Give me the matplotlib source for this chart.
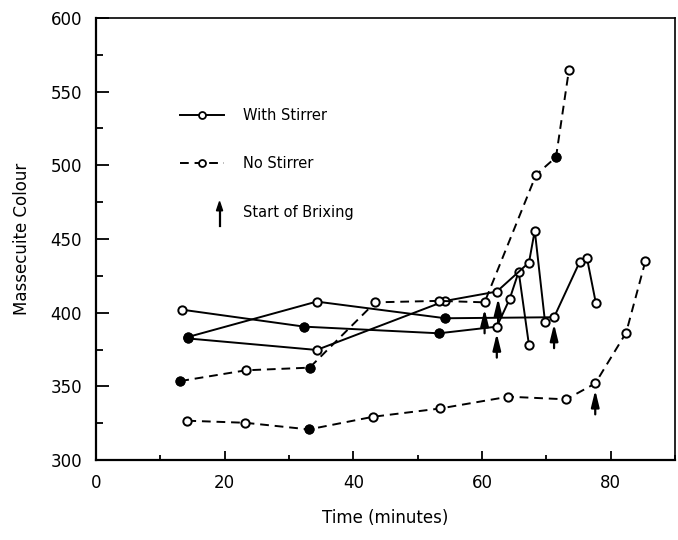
import matplotlib
matplotlib.use('Agg')
import matplotlib.pyplot as plt
from matplotlib.lines import Line2D
from matplotlib.patches import Polygon
from matplotlib.legend_handler import HandlerBase
from matplotlib.ticker import MultipleLocator

# with stirrer runs (time in minutes, massecuite colour)
s1_time = [13.4, 32.4, 53.3, 62.3, 64.3, 65.7, 67.3]
s1_col = [402, 390.5, 386, 390.5, 409.3, 427.8, 378]
s1_filled = [0, 1, 1, 0, 0, 0, 0]

s2_time = [14.3, 34.3, 54.3, 71.2, 75.2, 76.3, 77.7]
s2_col = [383.5, 407.5, 396.2, 396.9, 434.6, 437.3, 406.4]
s2_filled = [1, 0, 1, 0, 0, 0, 0]

s3_time = [14.3, 34.3, 54.3, 62.3, 67.3, 68.2, 69.8]
s3_col = [382.5, 374.7, 408, 414.3, 434, 455.7, 393.5]
s3_filled = [1, 0, 0, 0, 0, 0, 0]

# no stirrer runs
d1_time = [13.1, 23.3, 33.2, 43.4, 53.3, 60.4, 68.4, 71.5, 73.5]
d1_col = [353.6, 360.9, 362.7, 407, 408, 407, 493.5, 505.5, 564.3]
d1_filled = [1, 0, 1, 0, 0, 0, 0, 1, 0]

d2_time = [14.2, 23.2, 33.1, 43.1, 53.5, 64.1, 73.1, 77.6, 82.4, 85.4]
d2_col = [326.7, 325.3, 320.8, 329.4, 335, 343, 341.2, 352, 386.4, 435]
d2_filled = [0, 0, 1, 0, 0, 0, 0, 0, 0, 0]

# start of brixing points
brix_time = [60.4, 62.3, 62.5, 71.2, 77.6]
brix_col = [407, 390.5, 414.3, 396.9, 352]


class ArrowHandler(HandlerBase):
    def create_artists(self, legend, orig_handle, xdescent, ydescent,
                       width, height, fontsize, trans):
        x = width - xdescent - 3
        shaft = Line2D([x, x], [-height * 0.9, height * 0.9], color='black',
                       lw=1.6, transform=trans)
        head = Polygon([[x - 2.2, height * 0.6], [x + 2.2, height * 0.6],
                        [x, height * 1.5]], closed=True, color='black',
                       transform=trans)
        return [shaft, head]


fig, ax = plt.subplots(figsize=(6.78, 5.4), dpi=100)
fig.subplots_adjust(left=0.1416, right=0.9956, bottom=0.148, top=0.967)

mk = dict(marker='o', markersize=6, markeredgewidth=1.4,
          markeredgecolor='black', color='black', lw=1.4)
dash = (0, (4.5, 3))


def draw(t, c, filled, ls):
    ax.plot(t, c, linestyle=ls, markerfacecolor='white', **mk)
    ft = [v for v, f in zip(t, filled) if f]
    fc = [v for v, f in zip(c, filled) if f]
    ax.plot(ft, fc, linestyle='none', marker='o', markersize=6,
            color='black')


draw(s1_time, s1_col, s1_filled, '-')
draw(s2_time, s2_col, s2_filled, '-')
draw(s3_time, s3_col, s3_filled, '-')
draw(d1_time, d1_col, d1_filled, dash)
draw(d2_time, d2_col, d2_filled, dash)

for t, c in zip(brix_time, brix_col):
    ax.annotate('', xy=(t, c - 4.5), xytext=(t, c - 21),
                arrowprops=dict(arrowstyle='-|>,head_width=0.22,head_length=0.9',
                                color='black', lw=1.6, mutation_scale=11,
                                shrinkA=0, shrinkB=0))

ax.set_xlim(0, 90)
ax.set_ylim(300, 600)
ax.xaxis.set_major_locator(MultipleLocator(20))
ax.xaxis.set_minor_locator(MultipleLocator(10))
ax.yaxis.set_major_locator(MultipleLocator(50))
ax.yaxis.set_minor_locator(MultipleLocator(25))
ax.tick_params(which='both', direction='in', top=False, right=False,
               labelsize=12, width=1.3)
ax.tick_params(axis='x', which='major', length=6.5, pad=10)
ax.tick_params(axis='x', which='minor', length=3.5)
ax.tick_params(axis='y', which='major', length=9.5, pad=10)
ax.tick_params(axis='y', which='minor', length=5)
for side in ['left', 'bottom']:
    ax.spines[side].set_linewidth(1.6)
for side in ['top', 'right']:
    ax.spines[side].set_linewidth(1.2)

ax.set_xlabel('Time (minutes)', fontsize=12, labelpad=12)
ax.set_ylabel('Massecuite Colour', fontsize=12, labelpad=14)

handles = [
    Line2D([], [], color='black', lw=1.4, marker='o', markersize=5,
           markerfacecolor='white', markeredgewidth=1.3, markevery=[0, -1]),
    Line2D([], [], color='black', lw=1.4, linestyle=dash, marker='o',
           markersize=5, markerfacecolor='white', markeredgewidth=1.3,
           markevery=[0, -1]),
    'arrow',
]
ax.legend(handles, ['With Stirrer', 'No Stirrer', 'Start of Brixing'],
          handler_map={str: ArrowHandler()},
          loc='upper left', bbox_to_anchor=(0.145, 0.7965), frameon=False,
          fontsize=10.5, handlelength=3.0, handletextpad=1.3,
          labelspacing=2.3, borderpad=0, borderaxespad=0)

plt.savefig('out.png', dpi=100)
